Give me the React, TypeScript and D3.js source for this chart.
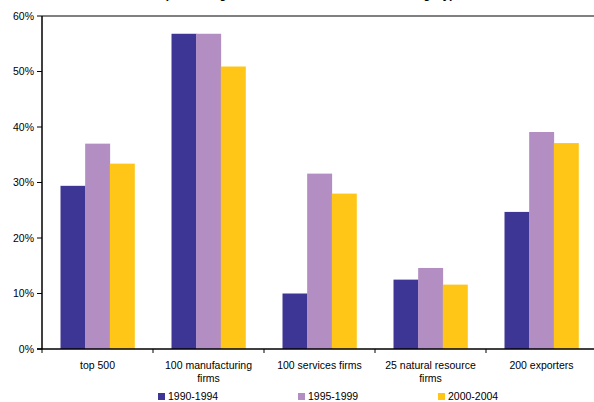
import React from "react";
import * as d3 from "d3";

// Categories of firms and the three periods compared
const categories: string[][] = [
  ["top 500"],
  ["100 manufacturing", "firms"],
  ["100 services firms"],
  ["25 natural resource", "firms"],
  ["200 exporters"],
];
const periods = ["1990-1994", "1995-1999", "2000-2004"];
const periodColors = ["#3E3694", "#B38EC3", "#FFC617"];

// Shares (%) per category, one array per period
const values1990: number[] = [29.4, 56.8, 10.0, 12.5, 24.7];
const values1995: number[] = [37.0, 56.8, 31.6, 14.6, 39.1];
const values2000: number[] = [33.4, 50.9, 28.0, 11.6, 37.1];
const seriesValues = [values1990, values1995, values2000];

const yTicks: number[] = [0, 10, 20, 30, 40, 50, 60];

const W = 594;
const H = 402;
const margin = { left: 42, top: 16, right: -3, bottom: 53 };
const FONT = "Liberation Sans, Arial, sans-serif";

export default function App() {
  const plotRight = W - margin.right;
  const plotBottom = H - margin.bottom;

  const x0 = d3
    .scaleBand<number>()
    .domain(categories.map((_, i) => i))
    .range([margin.left, plotRight])
    .padding(0);
  const bw = x0.bandwidth();
  // 150% gap between clusters
  const barW = bw / (3 + 1.5);
  const x1 = d3
    .scaleBand<number>()
    .domain(periods.map((_, i) => i))
    .range([barW * 0.75, barW * 0.75 + barW * 3])
    .padding(0);

  const y = d3.scaleLinear().domain([0, 60]).range([plotBottom, margin.top]);

  const legendX = [158, 298, 438];

  return (
    <svg
      width={W}
      height={H}
      style={{ position: "absolute", left: 0, top: 0, background: "#fff" }}
      fontFamily={FONT}
    >
      {/* subtitle line, running off the top edge */}
      <text
        x={309}
        y={-2.5}
        textAnchor="middle"
        fontSize={12}
        fontWeight="bold"
        fill="#000"
      >
        (Percentage of firms cross-listed in each category)
      </text>

      {/* plot-area top border */}
      <line
        x1={margin.left}
        x2={W}
        y1={margin.top}
        y2={margin.top}
        stroke="#808080"
        strokeWidth={2}
      />

      {/* bars */}
      {seriesValues.map((vals, s) =>
        vals.map((v, c) => (
          <rect
            key={`${s}-${c}`}
            x={(x0(c) as number) + (x1(s) as number)}
            y={y(v)}
            width={x1.bandwidth() + 0.3}
            height={y(0) - y(v)}
            fill={periodColors[s]}
          />
        ))
      )}

      {/* y axis */}
      <line
        x1={margin.left}
        x2={margin.left}
        y1={margin.top}
        y2={plotBottom}
        stroke="#000"
        strokeWidth={1.5}
      />
      {yTicks.map((t) => (
        <g key={t}>
          <line
            x1={margin.left - 5}
            x2={margin.left}
            y1={y(t)}
            y2={y(t)}
            stroke="#000"
            strokeWidth={1}
          />
          <text
            x={margin.left - 8}
            y={y(t)}
            dy="0.35em"
            textAnchor="end"
            fontSize={10.5}
            fill="#000"
          >
            {t}%
          </text>
        </g>
      ))}

      {/* x axis */}
      <line
        x1={margin.left - 5}
        x2={W}
        y1={plotBottom}
        y2={plotBottom}
        stroke="#000"
        strokeWidth={1.5}
      />
      {categories.map((_, i) => (
        <line
          key={i}
          x1={x0(i) as number}
          x2={x0(i) as number}
          y1={plotBottom}
          y2={plotBottom + 4}
          stroke="#000"
          strokeWidth={1}
        />
      ))}
      {categories.map((lines, i) => (
        <text
          key={i}
          x={(x0(i) as number) + bw / 2}
          y={plotBottom + 20}
          textAnchor="middle"
          fontSize={10.5}
          fill="#000"
        >
          {lines.map((ln, j) => (
            <tspan key={j} x={(x0(i) as number) + bw / 2} dy={j === 0 ? 0 : 13}>
              {ln}
            </tspan>
          ))}
        </text>
      ))}

      {/* legend */}
      {periods.map((p, i) => (
        <g key={p}>
          <rect x={legendX[i]} y={393} width={7} height={7} fill={periodColors[i]} />
          <text x={legendX[i] + 10} y={400} fontSize={10.5} fill="#000">
            {p}
          </text>
        </g>
      ))}
    </svg>
  );
}
